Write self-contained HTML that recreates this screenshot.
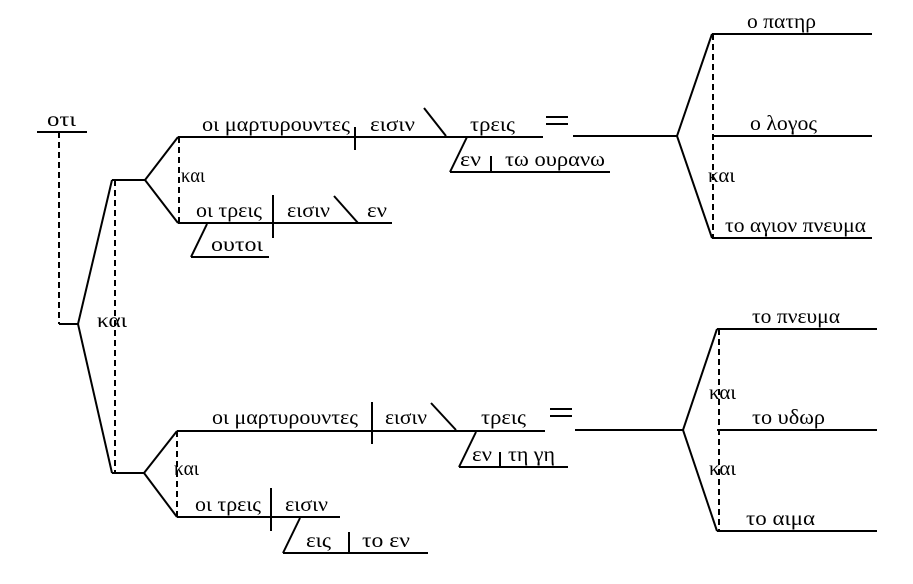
<!DOCTYPE html>
<html><head><meta charset="utf-8"><style>
html,body{margin:0;padding:0;background:#fff;}
svg{display:block;}
text{font-family:"Liberation Serif","DejaVu Serif",serif;font-size:21px;fill:#000;}
</style></head><body>
<svg width="913" height="584" viewBox="0 0 913 584" xmlns="http://www.w3.org/2000/svg">
<g stroke="#000" stroke-width="2" fill="none">
<line x1="37" y1="132" x2="87" y2="132"/>
<line x1="59" y1="132" x2="59" y2="324" stroke-dasharray="6,4"/>
<line x1="59" y1="324" x2="78" y2="324"/>
<polyline points="112,180 78,324 112,473"/>
<line x1="115" y1="180" x2="115" y2="473" stroke-dasharray="6,4"/>
<line x1="112" y1="180" x2="145" y2="180"/>
<polyline points="178,137 145,180 178,223"/>
<line x1="179" y1="137" x2="179" y2="223" stroke-dasharray="6,4"/>
<line x1="178" y1="137" x2="543" y2="137"/>
<line x1="355" y1="127" x2="355" y2="150"/>
<line x1="424" y1="108" x2="446" y2="136"/>
<line x1="467" y1="137" x2="450" y2="172"/>
<line x1="450" y1="172" x2="610" y2="172"/>
<line x1="491" y1="156" x2="491" y2="172"/>
<line x1="573" y1="136" x2="677" y2="136"/>
<line x1="178" y1="223" x2="392" y2="223"/>
<line x1="273" y1="195" x2="273" y2="238"/>
<line x1="334" y1="196" x2="358" y2="223"/>
<line x1="207" y1="224" x2="191" y2="257"/>
<line x1="191" y1="257" x2="269" y2="257"/>
<polyline points="712,34 677,136 712,238"/>
<line x1="712" y1="34" x2="872" y2="34"/>
<line x1="712" y1="136" x2="872" y2="136"/>
<line x1="712" y1="238" x2="872" y2="238"/>
<line x1="713" y1="34" x2="713" y2="238" stroke-dasharray="6,4"/>
<line x1="112" y1="473" x2="144" y2="473"/>
<polyline points="177,431 144,473 177,517"/>
<line x1="177" y1="431" x2="177" y2="517" stroke-dasharray="6,4"/>
<line x1="177" y1="431" x2="545" y2="431"/>
<line x1="372" y1="402" x2="372" y2="444"/>
<line x1="431" y1="403" x2="456" y2="430"/>
<line x1="476" y1="432" x2="459" y2="467"/>
<line x1="459" y1="467" x2="568" y2="467"/>
<line x1="500" y1="452" x2="500" y2="467"/>
<line x1="575" y1="430" x2="683" y2="430"/>
<line x1="177" y1="517" x2="340" y2="517"/>
<line x1="271" y1="488" x2="271" y2="531"/>
<line x1="300" y1="518" x2="283" y2="553"/>
<line x1="283" y1="553" x2="428" y2="553"/>
<line x1="349" y1="532" x2="349" y2="553"/>
<polyline points="717,329 683,430 717,531"/>
<line x1="717" y1="329" x2="877" y2="329"/>
<line x1="717" y1="430" x2="877" y2="430"/>
<line x1="717" y1="531" x2="877" y2="531"/>
<line x1="719" y1="329" x2="719" y2="531" stroke-dasharray="6,4"/>
<line x1="546" y1="117" x2="568" y2="117"/>
<line x1="546" y1="124" x2="568" y2="124"/>
<line x1="550" y1="409" x2="572" y2="409"/>
<line x1="550" y1="416" x2="572" y2="416"/>
</g>
<text x="47" y="126" textLength="29" lengthAdjust="spacingAndGlyphs">οτι</text>
<text x="97" y="327" textLength="30" lengthAdjust="spacingAndGlyphs">και</text>
<text x="202" y="131" textLength="148" lengthAdjust="spacingAndGlyphs">οι μαρτυρουντες</text>
<text x="370" y="131" textLength="45" lengthAdjust="spacingAndGlyphs">εισιν</text>
<text x="470" y="131" textLength="45" lengthAdjust="spacingAndGlyphs">τρεις</text>
<text x="460" y="166" textLength="21" lengthAdjust="spacingAndGlyphs">εν</text>
<text x="505" y="166" textLength="100" lengthAdjust="spacingAndGlyphs">τω ουρανω</text>
<text x="181" y="182" textLength="24" lengthAdjust="spacingAndGlyphs">και</text>
<text x="196" y="217" textLength="66" lengthAdjust="spacingAndGlyphs">οι τρεις</text>
<text x="287" y="217" textLength="43" lengthAdjust="spacingAndGlyphs">εισιν</text>
<text x="367" y="217" textLength="20" lengthAdjust="spacingAndGlyphs">εν</text>
<text x="211" y="251" textLength="52" lengthAdjust="spacingAndGlyphs">ουτοι</text>
<text x="747" y="28" textLength="69" lengthAdjust="spacingAndGlyphs">ο πατηρ</text>
<text x="750" y="130" textLength="67" lengthAdjust="spacingAndGlyphs">ο λογος</text>
<text x="708" y="182" textLength="27" lengthAdjust="spacingAndGlyphs">και</text>
<text x="725" y="232" textLength="141" lengthAdjust="spacingAndGlyphs">το αγιον πνευμα</text>
<text x="212" y="424" textLength="146" lengthAdjust="spacingAndGlyphs">οι μαρτυρουντες</text>
<text x="385" y="424" textLength="42" lengthAdjust="spacingAndGlyphs">εισιν</text>
<text x="481" y="424" textLength="45" lengthAdjust="spacingAndGlyphs">τρεις</text>
<text x="472" y="461" textLength="20" lengthAdjust="spacingAndGlyphs">εν</text>
<text x="508" y="461" textLength="47" lengthAdjust="spacingAndGlyphs">τη γη</text>
<text x="174" y="475" textLength="25" lengthAdjust="spacingAndGlyphs">και</text>
<text x="195" y="511" textLength="66" lengthAdjust="spacingAndGlyphs">οι τρεις</text>
<text x="285" y="511" textLength="43" lengthAdjust="spacingAndGlyphs">εισιν</text>
<text x="306" y="547" textLength="25" lengthAdjust="spacingAndGlyphs">εις</text>
<text x="362" y="547" textLength="48" lengthAdjust="spacingAndGlyphs">το  εν</text>
<text x="752" y="323" textLength="88" lengthAdjust="spacingAndGlyphs">το πνευμα</text>
<text x="709" y="399" textLength="27" lengthAdjust="spacingAndGlyphs">και</text>
<text x="752" y="424" textLength="73" lengthAdjust="spacingAndGlyphs">το υδωρ</text>
<text x="709" y="475" textLength="27" lengthAdjust="spacingAndGlyphs">και</text>
<text x="746" y="525" textLength="69" lengthAdjust="spacingAndGlyphs">το αιμα</text>
</svg>
</body></html>
